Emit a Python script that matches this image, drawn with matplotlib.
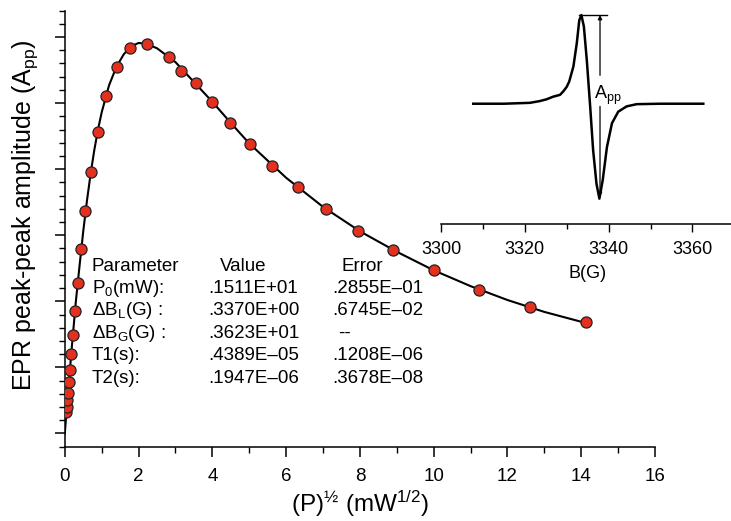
import numpy as np
import matplotlib
matplotlib.use('Agg')
import matplotlib.pyplot as plt

plt.rcParams['font.family'] = ['Liberation Sans', 'DejaVu Sans']
plt.rcParams['mathtext.fontset'] = 'custom'
plt.rcParams['mathtext.rm'] = 'Liberation Sans'
plt.rcParams['mathtext.it'] = 'Liberation Sans:italic'
plt.rcParams['mathtext.bf'] = 'Liberation Sans:bold'

# ----------------------------------------------------------------
# Data
# ----------------------------------------------------------------
# measured points: sqrt(P) (mW^1/2) vs peak-peak amplitude (arb.)
sqrt_p = [0.045, 0.056, 0.071, 0.089, 0.11, 0.14, 0.18, 0.22, 0.28, 0.355,
          0.45, 0.56, 0.71, 0.89, 1.12, 1.41, 1.78, 2.24, 2.82, 3.16,
          3.55, 3.98, 4.47, 5.01, 5.62, 6.31, 7.08, 7.94, 8.91, 10.0,
          11.22, 12.6, 14.14]
app = [0.33, 0.40, 0.50, 0.62, 0.78, 0.96, 1.21, 1.49, 1.85, 2.27,
       2.79, 3.36, 3.95, 4.57, 5.10, 5.55, 5.83, 5.89, 5.70, 5.48,
       5.31, 5.02, 4.70, 4.38, 4.05, 3.73, 3.40, 3.07, 2.78, 2.47,
       2.17, 1.92, 1.68]

# fitted curve
fit_x = [0, 0.05, 0.1, 0.15, 0.2, 0.3, 0.4, 0.5, 0.6, 0.7, 0.8, 0.9, 1.0,
         1.2, 1.4, 1.6, 1.8, 2.0, 2.2, 2.5, 3.0, 3.5, 4.0, 4.5, 5.0, 6.0,
         7.0, 8.0, 9.0, 10.0, 11.0, 12.0, 13.0, 14.14]
fit_y = [0, 0.36, 0.70, 1.04, 1.37, 2.00, 2.54, 3.06, 3.52, 3.93, 4.29,
         4.60, 4.86, 5.27, 5.55, 5.74, 5.86, 5.91, 5.90, 5.83, 5.62, 5.32,
         5.02, 4.70, 4.39, 3.87, 3.43, 3.06, 2.75, 2.47, 2.23, 2.02, 1.84,
         1.67]

# inset EPR spectrum
field_g = [3307.7, 3315.0, 3321.2, 3323.6, 3325.2, 3326.8, 3328.4, 3329.2,
           3330.0, 3330.6, 3331.6, 3332.4, 3333.0, 3333.5, 3334.1, 3334.8,
           3335.6, 3336.3, 3337.1, 3337.8, 3338.6, 3339.6, 3340.8, 3342.3,
           3344.3, 3346.7, 3352.3, 3362.6]
signal = [0.0, 0.0, 0.01, 0.03, 0.05, 0.08, 0.10, 0.14, 0.19, 0.25, 0.42,
          0.68, 0.94, 1.0, 0.87, 0.49, -0.03, -0.52, -0.90, -1.07, -0.86,
          -0.49, -0.22, -0.09, -0.03, -0.005, 0.0, 0.0]

# fit parameter table
param_names = ['P$_0$(mW):', r'$\Delta$B$_\mathrm{L}$(G) :',
               r'$\Delta$B$_\mathrm{G}$(G) :', 'T1(s):', 'T2(s):']
param_values = ['.1511E+01', '.3370E+00', '.3623E+01', '.4389E\u201305', '.1947E\u201306']
param_errors = ['.2855E\u201301', '.6745E\u201302', '--', '.1208E\u201306', '.3678E\u201308']

# ----------------------------------------------------------------
# Figure
# ----------------------------------------------------------------
W, H = 731, 521
fig = plt.figure(figsize=(W / 100, H / 100), dpi=100)

ax = fig.add_axes([64.8 / W, 1 - 446.7 / H, (655 - 64.8) / W, (446.7 - 10.6) / H])
ax.plot(fit_x, fit_y, color='black', lw=1.5, zorder=2)
ax.plot(sqrt_p, app, 'o', ms=8, mfc='#e3301f', mec='#222222', mew=0.9, zorder=3)

ax.set_xlim(0, 16)
ax.set_ylim(-0.2, 6.4)
ax.set_xticks(np.arange(0, 17, 2))
ax.set_xticks(np.arange(0, 17, 1), minor=True)
ax.set_yticks(np.arange(0, 7, 1))
ax.set_yticks(np.arange(-0.2, 6.41, 0.2), minor=True)
ax.set_yticklabels([])
for s in ['top', 'right']:
    ax.spines[s].set_visible(False)
for s in ['left', 'bottom']:
    ax.spines[s].set_linewidth(1.1)
ax.tick_params(axis='both', which='major', direction='out', length=7, width=1.1,
               labelsize=13.5, pad=8)
ax.tick_params(axis='both', which='minor', direction='out', length=4, width=1.0)

ax.text(-0.067, 0.53, 'EPR peak-peak amplitude (A$_\\mathrm{pp}$)', transform=ax.transAxes,
        rotation=90, ha='center', va='center', fontsize=18)
ax.text(0.5, -0.132, '(P)$^{\u00bd}$ (mW$^{1/2}$)', transform=ax.transAxes,
        ha='center', va='center', fontsize=17.5)

# parameter table
row_y = [(433.7 - py) / 66.1 for py in [270.7, 293.0, 315.5, 338.0, 360.5, 383.0]]
ax.text(0.73, row_y[0], 'Parameter', fontsize=13.5, va='baseline')
ax.text(4.21, row_y[0], 'Value', fontsize=13.5, va='baseline')
ax.text(7.50, row_y[0], 'Error', fontsize=13.5, va='baseline')
for i in range(len(param_names)):
    ax.text(0.73, row_y[i + 1], param_names[i], fontsize=13.5, va='baseline')
    ax.text(3.9, row_y[i + 1], param_values[i], fontsize=13.5, va='baseline')
    ex = 7.42 if param_errors[i] == '--' else 7.25
    ax.text(ex, row_y[i + 1], param_errors[i], fontsize=13.5, va='baseline')

# inset spectrum
ins = fig.add_axes([441 / W, 1 - 224 / H, (734.3 - 441) / W, (224 - 5) / H])
ins.patch.set_alpha(0)
ins.plot(field_g, signal, color='black', lw=1.8)
ins.set_xlim(3300, 3370)
ins.set_ylim(-1.356, 1.113)
ins.set_xticks([3300, 3320, 3340, 3360])
ins.set_xticks([3310, 3330, 3350], minor=True)
ins.set_yticks([])
for s in ['top', 'right', 'left']:
    ins.spines[s].set_visible(False)
ins.spines['bottom'].set_linewidth(1.1)
ins.tick_params(axis='x', which='major', direction='out', length=6, width=1.0,
                labelsize=13, pad=6)
ins.tick_params(axis='x', which='minor', direction='out', length=3.5, width=1.0)
ins.text(0.498, -0.224, 'B(G)', transform=ins.transAxes, ha='center', va='center',
         fontsize=13)

# App annotation
ins.plot([3333.0, 3339.5], [1.0, 1.0], color='black', lw=1.0)
ins.annotate('', xy=(3337.95, 1.0), xytext=(3337.95, 0.32),
             arrowprops=dict(arrowstyle='-|>', color='black', lw=0.9,
                             mutation_scale=6, shrinkA=0, shrinkB=0))
ins.annotate('', xy=(3337.95, -1.05), xytext=(3337.95, -0.03),
             arrowprops=dict(arrowstyle='-|>', color='black', lw=0.9,
                             mutation_scale=6, shrinkA=0, shrinkB=0))
ins.text(3336.4, 0.09, 'A$_\\mathrm{pp}$', fontsize=13, ha='left', va='center')

fig.savefig('out.png', dpi=100)
